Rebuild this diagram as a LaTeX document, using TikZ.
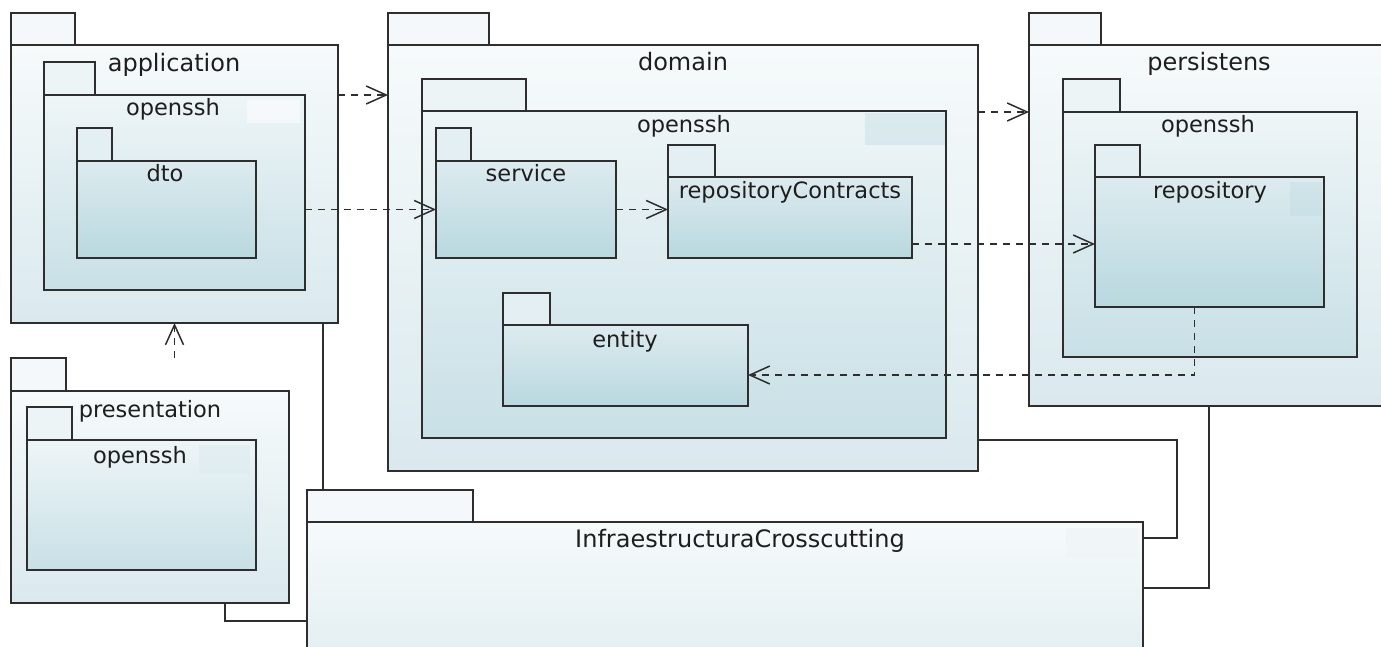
\documentclass[tikz,border=0pt]{standalone}
\usepackage{fontspec}
\setmainfont{DejaVu Sans}
\usetikzlibrary{arrows.meta,calc,fit}
\definecolor{lineC}{HTML}{2E2E2E}
\definecolor{txt}{HTML}{1E1E1E}
\definecolor{aT}{HTML}{F6FAFB}
\definecolor{aB}{HTML}{DAE9EE}
\definecolor{bT}{HTML}{EEF5F7}
\definecolor{bB}{HTML}{C8E0E6}
\definecolor{cT}{HTML}{DDEBEF}
\definecolor{cB}{HTML}{B8D8DF}
\definecolor{aTab}{HTML}{F4F8FA}
\definecolor{bTab}{HTML}{EDF4F6}
\definecolor{cTab}{HTML}{E3EFF2}
\tikzset{
  box/.style={draw=lineC, line width=1.5pt, inner sep=0pt, outer sep=0pt, rectangle},
  lvA/.style={box, top color=aT, bottom color=aB},
  lvB/.style={box, top color=bT, bottom color=bB},
  lvC/.style={box, top color=cT, bottom color=cB},
  tabA/.style={box, fill=aTab},
  tabB/.style={box, fill=bTab},
  tabC/.style={box, fill=cTab},
  lbl/.style={anchor=base, inner sep=0pt, text=txt, font=\fontsize{24}{28}\selectfont},
  slbl/.style={lbl, font=\fontsize{22.5}{27}\selectfont},
  dep/.style={draw=lineC, line width=1.5pt, dash pattern=on 7pt off 6pt,
    -{Straight Barb[length=20pt,width=18pt]}},
  conn/.style={draw=lineC, line width=1.5pt},
}
\begin{document}
\begin{tikzpicture}[x=1pt,y=-1pt]
\useasboundingbox (0,0) rectangle (1381,647);
\clip (0,0) rectangle (1381,647);
\fill[white] (0,0) rectangle (1381,647);

% application
\node[tabA, fit={(11,13) (75,45)}] (apptab) {};
\node[lvA, fit={(11,45) (338,323)}] (app) {};
\node[tabB, fit={(44,62) (95,95)}] (apposTab) {};
\node[lvB, fit={(44,95) (305,290)}] (appos) {};
\fill[white, opacity=0.5] (247,100) rectangle (300,123);
\node[tabC, fit={(77,128) (112,161)}] (dtotab) {};
\node[lvC, fit={(77,161) (256,258)}] (dto) {};

% domain
\node[tabA, fit={(388,13) (489,45)}] (domtab) {};
\node[lvA, fit={(388,45) (978,471)}] (dom) {};
\node[tabB, fit={(422,79) (526,111)}] (domosTab) {};
\node[lvB, fit={(422,111) (946,438)}] (domos) {};
\fill[cB, opacity=0.35] (865,113) rectangle (945,145);
\node[tabC, fit={(436,128) (471,161)}] (svctab) {};
\node[lvC, fit={(436,161) (616,258)}] (svc) {};
\node[tabC, fit={(668,145) (715,177)}] (repctab) {};
\node[lvC, fit={(668,177) (912,258)}] (repc) {};
\node[tabC, fit={(503,293) (550,325)}] (enttab) {};
\node[lvC, fit={(503,325) (748,406)}] (ent) {};

% persistens
\node[tabA, fit={(1029,13) (1101,45)}] (perstab) {};
\node[lvA, fit={(1029,45) (1389,406)}] (pers) {};
\node[tabB, fit={(1063,79) (1120,112)}] (persosTab) {};
\node[lvB, fit={(1063,112) (1357,357)}] (persos) {};
\node[tabC, fit={(1095,145) (1140,177)}] (repotab) {};
\node[lvC, fit={(1095,177) (1324,307)}] (repo) {};
\fill[cB, opacity=0.3] (1290,182) rectangle (1322,216);

% presentation
\node[tabA, fit={(11,358) (66,391)}] (prestab) {};
\node[lvA, fit={(11,391) (289,603)}] (pres) {};
\node[tabB, fit={(27,407) (72,440)}] (presosTab) {};
\node[lvB, fit={(27,440) (256,570)}] (presos) {};
\fill[cT, opacity=0.6] (199,445) rectangle (250,474);

% InfraestructuraCrosscutting
\node[tabA, fit={(307,490) (473,522)}] (infratab) {};
\node[lvA, fit={(307,522) (1143,720)}] (infra) {};
\fill[bT, opacity=0.6] (1066,528) rectangle (1138,558);

% labels
\node[lbl] (l1) at (174,72) {application};
\node[slbl] (l2) at (173,116) {openssh};
\node[slbl] (l3) at (165,182) {dto};
\node[lbl] (l4) at (683,71) {domain};
\node[slbl] (l5) at (684,133) {openssh};
\node[slbl] (l6) at (526,182) {service};
\node[slbl] (l7) at (790,199) {repositoryContracts};
\node[slbl] (l8) at (625,347) {entity};
\node[lbl] (l9) at (1209,71) {persistens};
\node[slbl] (l10) at (1208,133) {openssh};
\node[slbl] (l11) at (1210,199) {repository};
\node[slbl] (l12) at (150,417) {presentation};
\node[slbl] (l13) at (140,463) {openssh};
\node[lbl] (l14) at (740,547) {InfraestructuraCrosscutting};

% dependencies
\draw[dep] (app.east |- appos.north) -- (dom.west |- appos.north);
\draw[dep] (appos.east |- svc.west) -- (svc.west);
\draw[dep] (svc.east) -- (svc.east -| repc.west);
\draw[dep] (dom.east |- persos.north) -- (pers.west |- persos.north);
\coordinate (c1) at ($(repc.south east)+(0,-14)$);
\draw[dep] (c1) -- (c1 -| repo.west);
\coordinate (c2) at ($(ent.east)+(0,9.5)$);
\draw[dep] ($(repo.south)+(-15,0)$) |- (c2);
\draw[dep] (app.south |- prestab.north) -- (app.south);

% plain connectors
\coordinate (a1) at ($(app.south east)+(-15,0)$);
\draw[conn] (a1) -- (a1 |- infratab.north);
\coordinate (p1) at ($(pres.south)+(75,0)$);
\draw[conn] (p1) |- (infra.west);
\coordinate (d1) at ($(dom.south east)+(0,-31)$);
\coordinate (c4) at ($(infra.north east)+(0,16)$);
\coordinate (c3) at ($(c4)+(34,0)$);
\draw[conn] (d1) -| (c3) -- (c4);
\coordinate (c5) at ($(infra.north east)+(0,66)$);
\draw[conn] (pers.south) |- (c5);
\end{tikzpicture}
\end{document}
